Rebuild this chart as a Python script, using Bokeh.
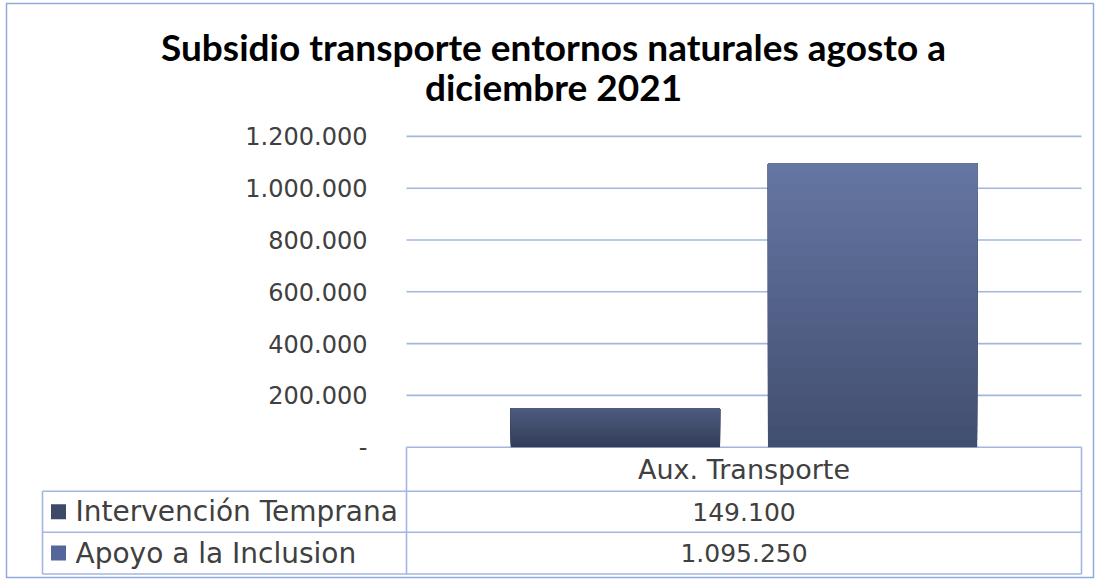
from bokeh.plotting import figure
from bokeh.models import Range1d, LinearAxis, FixedTicker, CustomJSTickFormatter
from bokeh.core.properties import value
from bokeh.embed import file_html
from bokeh.resources import INLINE

# ---------------- data ----------------
title_lines = ["Subsidio transporte entornos naturales agosto a", "diciembre 2021"]
categories = ["Aux. Transporte"]
series = ["Intervención Temprana", "Apoyo a la Inclusion"]
values = [149100, 1095250]
y_ticks = [0, 200000, 400000, 600000, 800000, 1000000, 1200000]

# ---------------- style ----------------
top_colors = ["#4F5B7F", "#6576A2"]
bottom_colors = ["#323D58", "#414E6F"]
swatch_colors = ["#3E4968", "#55679A"]
GRID_COLOR = "#A3B6E2"
TEXT_COLOR = "#404040"

W, H = 1095, 579
FR_L, FR_T, FR_R, FR_B = 6, 3, 1093, 577   # frame (chart border) in canvas px
PLOT_L, PLOT_R = 406, 1081                 # plot area in canvas px
ZERO_Y = 446.7                             # canvas px of value 0
PX_PER_UNIT = 51.8 / 200000.0
CAT_W = PLOT_R - PLOT_L
TABLE_L = 42
ROW_EDGES = [ZERO_Y, 490.7, 531.7, 573.5]

p = figure(width=W, height=H, output_backend="svg", toolbar_location=None,
           x_axis_location=None, y_axis_location=None, title=None,
           x_range=Range1d((FR_L - PLOT_L) / CAT_W, (FR_R - PLOT_L) / CAT_W),
           y_range=Range1d((ZERO_Y - FR_B) / PX_PER_UNIT, (ZERO_Y - FR_T) / PX_PER_UNIT),
           min_border=0, min_border_left=FR_L, min_border_right=W - FR_R,
           min_border_top=FR_T, min_border_bottom=H - FR_B)
p.extra_x_ranges = {"px": Range1d(FR_L, FR_R)}
p.extra_y_ranges = {"px": Range1d(FR_B, FR_T)}
p.background_fill_color = "white"
p.border_fill_color = "white"
p.outline_line_color = "#8EA9DB"
p.outline_line_width = 1.5
p.grid.grid_line_color = None

# y axis fixed at the left edge of the plot area
yax = LinearAxis(fixed_location=0, ticker=FixedTicker(ticks=y_ticks),
                 formatter=CustomJSTickFormatter(code=r"""
                     if (tick == 0) { return '-'; }
                     return tick.toFixed(0).replace(/\B(?=(\d{3})+(?!\d))/g, '.');
                 """))
yax.axis_line_color = None
yax.major_tick_line_color = None
yax.minor_tick_line_color = None
yax.major_tick_out = 0
yax.major_tick_in = 0
yax.major_label_standoff = 39
yax.major_label_text_font = "DejaVu Sans"
yax.major_label_text_font_size = "24px"
yax.major_label_text_color = TEXT_COLOR
p.add_layout(yax, "left")

# gridlines across the category span
p.segment(x0=[0] * len(y_ticks), x1=[len(categories)] * len(y_ticks),
          y0=y_ticks, y1=y_ticks, line_color=GRID_COLOR, line_width=1.6)

# bars with vertical gradient (overlapping slices, no seams)
n_series = len(series)
bar_w = 0.31
step = 0.381
N = 40
for ci, cat in enumerate(categories):
    for si, v in enumerate(values):
        xc = ci + 0.5 + (si - (n_series - 1) / 2) * step
        tc = top_colors[si]
        bc = bottom_colors[si]
        t = [int(tc[k:k + 2], 16) for k in (1, 3, 5)]
        b = [int(bc[k:k + 2], 16) for k in (1, 3, 5)]
        bottoms, tops, cols = [], [], []
        for k in range(N):
            f = (k + 0.5) / N
            c = "#%02x%02x%02x" % tuple(int(round(b[j] + (t[j] - b[j]) * f)) for j in range(3))
            bottoms.append(v * k / N)
            tops.append(v)
            cols.append(c)
        p.vbar(x=[xc] * N, width=bar_w, bottom=bottoms, top=tops,
               fill_color=cols, line_color=None)

# ---------------- data table ----------------
hy = ROW_EDGES[1:]
p.segment(x0=[TABLE_L] * len(hy), x1=[PLOT_R] * len(hy), y0=hy, y1=hy,
          line_color=GRID_COLOR, line_width=1.6, x_range_name="px", y_range_name="px")
p.segment(x0=[PLOT_L, PLOT_R, TABLE_L], x1=[PLOT_L, PLOT_R, TABLE_L],
          y0=[ROW_EDGES[0], ROW_EDGES[0], ROW_EDGES[1]],
          y1=[ROW_EDGES[-1]] * 3,
          line_color=GRID_COLOR, line_width=1.6, x_range_name="px", y_range_name="px")

row_mid = [(ROW_EDGES[i] + ROW_EDGES[i + 1]) / 2 for i in range(len(ROW_EDGES) - 1)]
col_mid = (PLOT_L + PLOT_R) / 2
p.text(x=[col_mid], y=[row_mid[0]], text=categories, text_align="center",
       text_baseline="middle", text_font=value("DejaVu Sans"), text_font_size="27px",
       text_color=TEXT_COLOR, x_range_name="px", y_range_name="px")
val_txt = [f"{v:,}".replace(",", ".") for v in values]
p.text(x=[col_mid] * len(values), y=row_mid[1:], text=val_txt, text_align="center",
       text_baseline="middle", text_font=value("DejaVu Sans"), text_font_size="25px",
       text_color=TEXT_COLOR, x_range_name="px", y_range_name="px")
p.scatter(x=[TABLE_L + 16] * len(series), y=row_mid[1:], marker="square", size=15,
          fill_color=swatch_colors, line_color=None, x_range_name="px", y_range_name="px")
p.text(x=[TABLE_L + 33] * len(series), y=row_mid[1:], text=series, text_align="left",
       text_baseline="middle", text_font=value("DejaVu Sans"), text_font_size="28px",
       text_color=TEXT_COLOR, x_range_name="px", y_range_name="px")

# ---------------- title ----------------
p.text(x=[553, 553], y=[46, 86], text=title_lines, text_align="center",
       text_baseline="alphabetic", text_font=value("Lato"), text_font_style="bold",
       text_font_size="37px", text_color="#000000", x_range_name="px", y_range_name="px")

open("out.html", "w").write(file_html(p, INLINE))
